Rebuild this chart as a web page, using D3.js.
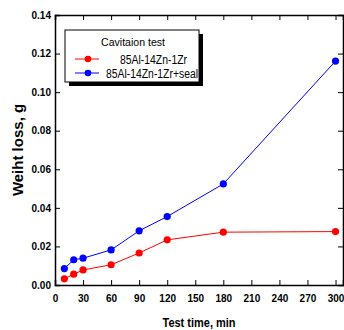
<!DOCTYPE html>
<html>
<head>
<meta charset="utf-8">
<script src="https://cdn.jsdelivr.net/npm/d3@7"></script>
<style>
  body { margin: 0; background: #fff; }
  text { font-family: "Liberation Sans", Arial, sans-serif; }
</style>
</head>
<body>
<div id="chart"></div>
<script>
// data
const times = [10, 20, 30, 60, 90, 120, 180, 300];
const lossAlloy = [0.0032, 0.0056, 0.0078, 0.0105, 0.0166, 0.0234, 0.0274, 0.0277];
const lossSeal = [0.0085, 0.0131, 0.0139, 0.0182, 0.0281, 0.0355, 0.0524, 0.1161];
const seriesNames = ["85Al-14Zn-1Zr", "85Al-14Zn-1Zr+seal"];
const seriesColors = ["#ff0000", "#0000ff"];
const xTicks = [0, 30, 60, 90, 120, 150, 180, 210, 240, 270, 300];
const yTicks = [0, 0.02, 0.04, 0.06, 0.08, 0.10, 0.12, 0.14];

const W = 344, H = 330;
const margin = { top: 15, right: 1, bottom: 45, left: 55 };
const width = W - margin.left - margin.right;
const height = H - margin.top - margin.bottom;

const svg = d3.select("#chart").append("svg")
  .attr("width", W).attr("height", H);
const g = svg.append("g").attr("transform", `translate(${margin.left},${margin.top})`);

const x = d3.scaleLinear().domain([0, 308]).range([0, width]);
const y = d3.scaleLinear().domain([0, 0.14]).range([height, 0]);

const xMinor = d3.range(0, 308, 10);
const yMinor = d3.range(0, 0.1401, 0.005);

// bottom axis
const bx = g.append("g").attr("transform", `translate(0,${height})`);
bx.call(d3.axisBottom(x).tickValues(xMinor).tickSize(-3).tickFormat(""));
bx.call(d3.axisBottom(x).tickValues(xTicks).tickSize(-5).tickPadding(10).tickFormat(d3.format("d")));
// top axis
const tx = g.append("g");
tx.call(d3.axisTop(x).tickValues(xMinor).tickSize(-3).tickFormat(""));
tx.call(d3.axisTop(x).tickValues(xTicks).tickSize(-5).tickFormat(""));
// left axis
const ly = g.append("g");
ly.call(d3.axisLeft(y).tickValues(yMinor).tickSize(-3).tickFormat(""));
ly.call(d3.axisLeft(y).tickValues(yTicks).tickSize(-5).tickPadding(4).tickFormat(d3.format(".2f")));
// right axis
const ry = g.append("g").attr("transform", `translate(${width},0)`);
ry.call(d3.axisRight(y).tickValues(yMinor).tickSize(-3).tickFormat(""));
ry.call(d3.axisRight(y).tickValues(yTicks).tickSize(-5).tickFormat(""));

g.selectAll(".domain").attr("stroke", "#000").attr("stroke-width", 1.5);
g.selectAll(".tick line").attr("stroke", "#000").attr("stroke-width", 1);
g.selectAll(".tick text")
  .style("font-size", "10px").style("font-weight", "bold").attr("fill", "#000");

// series
const seriesData = [lossAlloy, lossSeal];
const line = d3.line().x((d, i) => x(times[i])).y(d => y(d));
seriesData.forEach((vals, k) => {
  g.append("path").datum(vals)
    .attr("d", line)
    .attr("fill", "none")
    .attr("stroke", seriesColors[k])
    .attr("stroke-width", 1);
  g.selectAll(".pt" + k).data(vals).enter().append("circle")
    .attr("cx", (d, i) => x(times[i]))
    .attr("cy", d => y(d))
    .attr("r", 3.6)
    .attr("fill", seriesColors[k]);
});

// legend
const lg = svg.append("g").attr("transform", "translate(65,30)");
lg.append("rect").attr("x", 4).attr("y", 4).attr("width", 134).attr("height", 52).attr("fill", "#000");
lg.append("rect").attr("x", 0).attr("y", 0).attr("width", 134).attr("height", 52)
  .attr("fill", "#fff").attr("stroke", "#000").attr("stroke-width", 1);
lg.append("text").attr("x", 68).attr("y", 16).attr("text-anchor", "middle")
  .style("font-size", "11.5px").attr("textLength", 64).attr("lengthAdjust", "spacingAndGlyphs")
  .text("Cavitaion test");
const legendTextX = [55, 41];
const legendTextLen = [67, 92];
seriesNames.forEach((name, k) => {
  const yy = 29 + k * 14;
  lg.append("line").attr("x1", 10).attr("x2", 34).attr("y1", yy).attr("y2", yy)
    .attr("stroke", seriesColors[k]).attr("stroke-width", 1);
  lg.append("circle").attr("cx", 23).attr("cy", yy).attr("r", 3.3).attr("fill", seriesColors[k]);
  lg.append("text").attr("x", legendTextX[k]).attr("y", yy + 4.5)
    .style("font-size", "12px").attr("textLength", legendTextLen[k]).attr("lengthAdjust", "spacingAndGlyphs")
    .text(name);
});

// axis titles
svg.append("text")
  .attr("transform", `translate(23,${margin.top + height / 2}) rotate(-90)`)
  .attr("text-anchor", "middle")
  .style("font-size", "15px").style("font-weight", "bold")
  .text("Weiht loss, g");
svg.append("text")
  .attr("x", margin.left + width / 2).attr("y", 327)
  .attr("text-anchor", "middle")
  .style("font-size", "13px").style("font-weight", "bold")
  .attr("textLength", 73).attr("lengthAdjust", "spacingAndGlyphs")
  .text("Test time, min");
</script>
</body>
</html>
